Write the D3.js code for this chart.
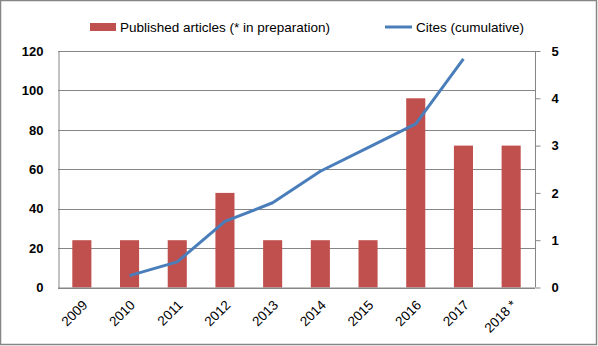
<!DOCTYPE html>
<html>
<head>
<meta charset="utf-8">
<script src="https://cdn.jsdelivr.net/npm/d3@7"></script>
<style>
  body { margin: 0; background: #fff; }
  svg { display: block; }
</style>
</head>
<body>
<svg id="chart" width="598" height="346"></svg>
<script>
const years = ["2009", "2010", "2011", "2012", "2013", "2014", "2015", "2016", "2017", "2018 *"];
const articles = [1, 1, 1, 2, 1, 1, 1, 4, 3, 3];
const cites = [null, 6, 13, 33.5, 43, 59, 71, 83, 116, null];
const leftTicks = [0, 20, 40, 60, 80, 100, 120];
const rightTicks = [0, 1, 2, 3, 4, 5];
const seriesNames = ["Published articles (* in preparation)", "Cites (cumulative)"];

const svg = d3.select("#chart");
const m = { left: 58, right: 535, top: 51, bottom: 287.5 };
const font = "'Liberation Sans', Arial, sans-serif";

svg.append("rect").attr("x", 0.5).attr("y", 0.5).attr("width", 596).attr("height", 344)
  .attr("fill", "#fff").attr("stroke", "#868686").attr("stroke-width", 1.5);

const x = d3.scaleBand().domain(years).range([m.left, m.right]).paddingInner(0).paddingOuter(0);
const yL = d3.scaleLinear().domain([0, 120]).range([m.bottom, m.top]);
const yR = d3.scaleLinear().domain([0, 5]).range([m.bottom, m.top]);

// gridlines
svg.append("g").selectAll("line").data(leftTicks).join("line")
  .attr("x1", m.left).attr("x2", m.right)
  .attr("y1", d => Math.round(yL(d)) + 0.5).attr("y2", d => Math.round(yL(d)) + 0.5)
  .attr("stroke", "#868686").attr("stroke-width", 1);

// bars
const bw = x.bandwidth() * 0.4;
svg.append("g").selectAll("rect").data(years).join("rect")
  .attr("x", d => x(d) + x.bandwidth() / 2 - bw / 2)
  .attr("width", bw)
  .attr("y", (d, i) => yR(articles[i]))
  .attr("height", (d, i) => yR(0) - yR(articles[i]))
  .attr("fill", "#c0504d");

// line
const line = d3.line()
  .defined(d => d.v != null)
  .x(d => x(d.y) + x.bandwidth() / 2)
  .y(d => yL(d.v));
svg.append("path")
  .datum(years.map((y, i) => ({ y, v: cites[i] })))
  .attr("d", line)
  .attr("fill", "none").attr("stroke", "#4a7ebb").attr("stroke-width", 3)
  .attr("stroke-linejoin", "round");

// left axis
const gL = svg.append("g").attr("transform", `translate(${m.left + 0.5},0)`)
  .call(d3.axisLeft(yL).tickValues(leftTicks).tickSize(0).tickPadding(15));
gL.select(".domain").attr("stroke", "#868686");
gL.selectAll("text").attr("font-family", font).attr("font-size", 13).attr("font-weight", "bold").attr("fill", "#000");

// right axis
const gR = svg.append("g").attr("transform", `translate(${m.right + 0.5},0)`)
  .call(d3.axisRight(yR).tickValues(rightTicks).tickSize(5).tickPadding(11).tickFormat(d3.format("d")));
gR.select(".domain").attr("stroke", "#868686").attr("d", `M0,${m.top}V${m.bottom}`);
gR.selectAll(".tick line").attr("stroke", "#868686");
gR.selectAll("text").attr("font-family", font).attr("font-size", 13).attr("font-weight", "bold").attr("fill", "#000");

// bottom axis
const gB = svg.append("g").attr("transform", `translate(0,${m.bottom})`)
  .call(d3.axisBottom(x).tickSize(0));
gB.select(".domain").attr("stroke", "#868686").attr("d", `M${m.left},0.5H${m.right}`);
gB.selectAll("text")
  .attr("font-family", font).attr("font-size", 13.5).attr("fill", "#000")
  .attr("text-anchor", "end")
  .attr("dy", "0.35em").attr("y", 0)
  .attr("transform", "translate(3,15) rotate(-45)");

// legend
const lg = svg.append("g").attr("font-family", font).attr("font-size", 13.5).attr("fill", "#000");
lg.append("rect").attr("x", 90).attr("y", 23).attr("width", 26).attr("height", 8).attr("fill", "#c0504d");
lg.append("text").attr("x", 120).attr("y", 31.5).text(seriesNames[0]);
lg.append("line").attr("x1", 385).attr("x2", 412).attr("y1", 27).attr("y2", 27)
  .attr("stroke", "#4a7ebb").attr("stroke-width", 3);
lg.append("text").attr("x", 416).attr("y", 31.5).text(seriesNames[1]);
</script>
</body>
</html>
